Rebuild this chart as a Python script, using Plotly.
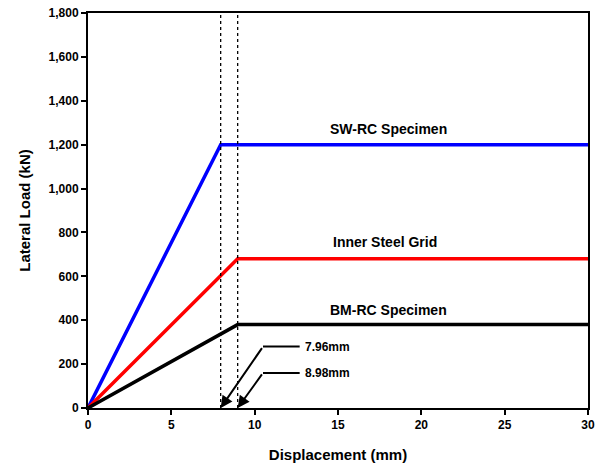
import plotly.graph_objects as go

# Data
series_names = ["SW-RC Specimen", "Inner Steel Grid", "BM-RC Specimen"]
series_x = [[0, 7.96, 30], [0, 8.98, 30], [0, 8.98, 30]]
series_y = [[0, 1200, 1200], [0, 680, 680], [0, 380, 380]]
series_colors = ["#0000ff", "#ff0000", "#000000"]
label_x = [18.0, 17.8, 18.0]
label_y = [1270, 755, 445]

yield_disp = [7.96, 8.98]
yield_labels = ["7.96mm", "8.98mm"]
leader_y = [280, 160]
leader_x0 = 10.5
leader_x1 = 12.7
text_x = 12.9

FONT = "Liberation Sans, Arial, sans-serif"

fig = go.Figure()
for xs, ys, c, n in zip(series_x, series_y, series_colors, series_names):
    fig.add_trace(go.Scatter(x=xs, y=ys, mode="lines", line=dict(color=c, width=3.5), name=n, showlegend=False))

for d in yield_disp:
    fig.add_trace(go.Scatter(x=[d, d], y=[0, 1800], mode="lines", line=dict(color="black", width=1.3, dash="dot"), showlegend=False))

for d, lab, ly in zip(yield_disp, yield_labels, leader_y):
    fig.add_trace(go.Scatter(x=[leader_x0, leader_x1], y=[ly, ly], mode="lines", line=dict(color="black", width=2), showlegend=False))
    fig.add_annotation(x=d, y=0, ax=leader_x0, ay=ly, xref="x", yref="y", axref="x", ayref="y",
                       showarrow=True, arrowhead=2, arrowsize=1.2, arrowwidth=2, arrowcolor="black", text="")
    fig.add_annotation(x=text_x, y=ly, xref="x", yref="y", text=lab, showarrow=False, xanchor="left",
                       font=dict(family=FONT, size=12, color="black", weight="bold"))

for n, lx, ly in zip(series_names, label_x, label_y):
    fig.add_annotation(x=lx, y=ly, xref="x", yref="y", text=n, showarrow=False,
                       font=dict(family=FONT, size=14, color="black", weight="bold"))

axis_common = dict(showline=True, linecolor="black", linewidth=2, mirror=True, ticks="outside",
                   ticklen=5, tickwidth=2, tickcolor="black", showgrid=False, zeroline=False,
                   automargin=False,
                   tickfont=dict(family=FONT, size=12, color="black", weight="bold"))

fig.update_xaxes(range=[0, 30], dtick=5, tick0=0,
                 title=dict(text="Displacement (mm)", font=dict(family=FONT, size=15, color="black", weight="bold"), standoff=18),
                 **axis_common)
fig.update_yaxes(range=[0, 1800], dtick=200, tick0=0, tickformat=",d",
                 title=dict(text="Lateral Load (kN)", font=dict(family=FONT, size=15, color="black", weight="bold"), standoff=14),
                 **axis_common)

fig.update_layout(width=597, height=466, margin=dict(l=88, r=9, t=13, b=58),
                  plot_bgcolor="white", paper_bgcolor="white")

fig.write_html("out.html")
